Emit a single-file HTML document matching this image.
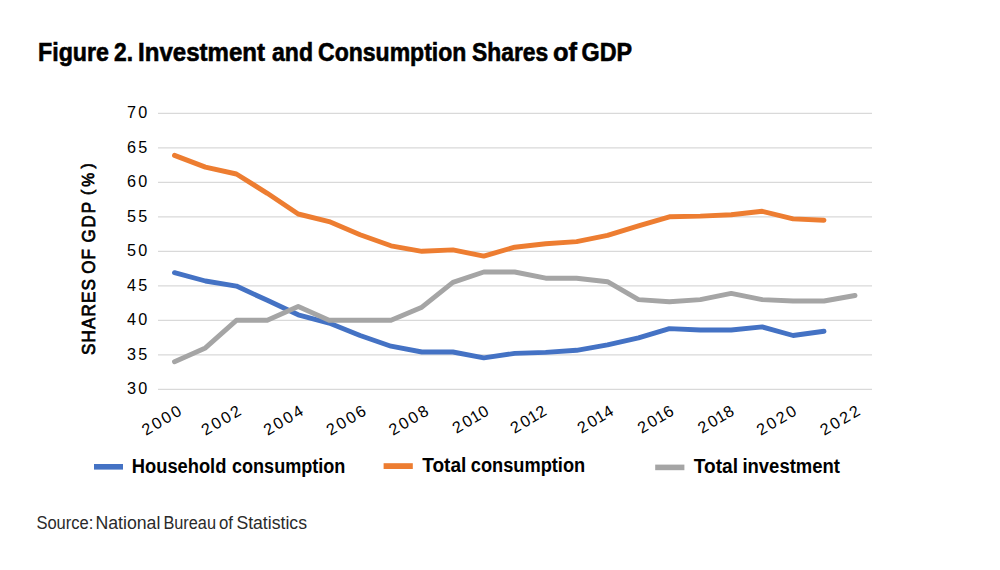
<!DOCTYPE html>
<html><head><meta charset="utf-8"><style>html,body{margin:0;padding:0;background:#fff;width:1000px;height:570px;overflow:hidden}svg{display:block}</style></head><body>
<svg width="1000" height="570" viewBox="0 0 1000 570">
<rect width="1000" height="570" fill="#fff"/>
<text x="38.0" y="61" font-family="Liberation Sans" font-weight="bold" font-size="25.6" fill="#000" stroke="#000" stroke-width="0.6" textLength="71.0" lengthAdjust="spacingAndGlyphs">Figure</text>
<text x="114.0" y="61" font-family="Liberation Sans" font-weight="bold" font-size="25.6" fill="#000" stroke="#000" stroke-width="0.6" textLength="19.0" lengthAdjust="spacingAndGlyphs">2.</text>
<text x="138.0" y="61" font-family="Liberation Sans" font-weight="bold" font-size="25.6" fill="#000" stroke="#000" stroke-width="0.6" textLength="127.0" lengthAdjust="spacingAndGlyphs">Investment</text>
<text x="272.0" y="61" font-family="Liberation Sans" font-weight="bold" font-size="25.6" fill="#000" stroke="#000" stroke-width="0.6" textLength="41.0" lengthAdjust="spacingAndGlyphs">and</text>
<text x="318.0" y="61" font-family="Liberation Sans" font-weight="bold" font-size="25.6" fill="#000" stroke="#000" stroke-width="0.6" textLength="148.4" lengthAdjust="spacingAndGlyphs">Consumption</text>
<text x="472.0" y="61" font-family="Liberation Sans" font-weight="bold" font-size="25.6" fill="#000" stroke="#000" stroke-width="0.6" textLength="76.2" lengthAdjust="spacingAndGlyphs">Shares</text>
<text x="553.0" y="61" font-family="Liberation Sans" font-weight="bold" font-size="25.6" fill="#000" stroke="#000" stroke-width="0.6" textLength="24.0" lengthAdjust="spacingAndGlyphs">of</text>
<text x="581.6" y="61" font-family="Liberation Sans" font-weight="bold" font-size="25.6" fill="#000" stroke="#000" stroke-width="0.6" textLength="50.6" lengthAdjust="spacingAndGlyphs">GDP</text>
<line x1="158" x2="872" y1="389.3" y2="389.3" stroke="#d9d9d9" stroke-width="1.3"/>
<text x="149.5" y="394.2" font-family="Liberation Sans" font-size="16.2" fill="#000" text-anchor="end" letter-spacing="2.3">30</text>
<line x1="158" x2="872" y1="354.8" y2="354.8" stroke="#d9d9d9" stroke-width="1.3"/>
<text x="149.5" y="359.7" font-family="Liberation Sans" font-size="16.2" fill="#000" text-anchor="end" letter-spacing="2.3">35</text>
<line x1="158" x2="872" y1="320.3" y2="320.3" stroke="#d9d9d9" stroke-width="1.3"/>
<text x="149.5" y="325.2" font-family="Liberation Sans" font-size="16.2" fill="#000" text-anchor="end" letter-spacing="2.3">40</text>
<line x1="158" x2="872" y1="285.8" y2="285.8" stroke="#d9d9d9" stroke-width="1.3"/>
<text x="149.5" y="290.7" font-family="Liberation Sans" font-size="16.2" fill="#000" text-anchor="end" letter-spacing="2.3">45</text>
<line x1="158" x2="872" y1="251.3" y2="251.3" stroke="#d9d9d9" stroke-width="1.3"/>
<text x="149.5" y="256.2" font-family="Liberation Sans" font-size="16.2" fill="#000" text-anchor="end" letter-spacing="2.3">50</text>
<line x1="158" x2="872" y1="216.8" y2="216.8" stroke="#d9d9d9" stroke-width="1.3"/>
<text x="149.5" y="221.7" font-family="Liberation Sans" font-size="16.2" fill="#000" text-anchor="end" letter-spacing="2.3">55</text>
<line x1="158" x2="872" y1="182.3" y2="182.3" stroke="#d9d9d9" stroke-width="1.3"/>
<text x="149.5" y="187.2" font-family="Liberation Sans" font-size="16.2" fill="#000" text-anchor="end" letter-spacing="2.3">60</text>
<line x1="158" x2="872" y1="147.8" y2="147.8" stroke="#d9d9d9" stroke-width="1.3"/>
<text x="149.5" y="152.7" font-family="Liberation Sans" font-size="16.2" fill="#000" text-anchor="end" letter-spacing="2.3">65</text>
<line x1="158" x2="872" y1="113.3" y2="113.3" stroke="#d9d9d9" stroke-width="1.3"/>
<text x="149.5" y="118.2" font-family="Liberation Sans" font-size="16.2" fill="#000" text-anchor="end" letter-spacing="2.3">70</text>
<text transform="translate(95.3,355) rotate(-90) scale(0.95,1)" x="0" y="0" font-family="Liberation Sans" font-size="18" fill="#000" stroke="#000" stroke-width="0.75" textLength="80.0" lengthAdjust="spacing">SHARES</text>
<text transform="translate(95.3,273.8) rotate(-90) scale(0.95,1)" x="0" y="0" font-family="Liberation Sans" font-size="18" fill="#000" stroke="#000" stroke-width="0.75" textLength="26.1" lengthAdjust="spacing">OF</text>
<text transform="translate(95.3,242.6) rotate(-90) scale(0.95,1)" x="0" y="0" font-family="Liberation Sans" font-size="18" fill="#000" stroke="#000" stroke-width="0.75" textLength="42.9" lengthAdjust="spacing">GDP</text>
<text transform="translate(92.5,195) rotate(-90) scale(0.95,1)" x="0" y="0" font-family="Liberation Sans" font-size="16.5" fill="#000" stroke="#000" stroke-width="0.75" textLength="7.4" lengthAdjust="spacing">(</text>
<text transform="translate(94,186.7) rotate(-90) scale(0.95,1)" x="0" y="0" font-family="Liberation Sans" font-size="16.5" fill="#000" stroke="#000" stroke-width="0.75" textLength="17.1" lengthAdjust="spacing">%</text>
<text transform="translate(92.5,168.5) rotate(-90) scale(0.95,1)" x="0" y="0" font-family="Liberation Sans" font-size="16.5" fill="#000" stroke="#000" stroke-width="0.75" textLength="7.4" lengthAdjust="spacing">)</text>
<text transform="translate(184.7,412.8) rotate(-31)" font-family="Liberation Sans" font-size="16.2" fill="#000" text-anchor="end" letter-spacing="2.3">2000</text>
<text transform="translate(244.3,412.8) rotate(-31)" font-family="Liberation Sans" font-size="16.2" fill="#000" text-anchor="end" letter-spacing="2.3">2002</text>
<text transform="translate(306.4,412.8) rotate(-31)" font-family="Liberation Sans" font-size="16.2" fill="#000" text-anchor="end" letter-spacing="2.3">2004</text>
<text transform="translate(369.3,412.8) rotate(-31)" font-family="Liberation Sans" font-size="16.2" fill="#000" text-anchor="end" letter-spacing="2.3">2006</text>
<text transform="translate(431.7,412.8) rotate(-31)" font-family="Liberation Sans" font-size="16.2" fill="#000" text-anchor="end" letter-spacing="2.3">2008</text>
<text transform="translate(491.9,412.8) rotate(-31)" font-family="Liberation Sans" font-size="16.2" fill="#000" text-anchor="end" letter-spacing="2.3" dx="0 0 -2 -2">2010</text>
<text transform="translate(549.8,412.8) rotate(-31)" font-family="Liberation Sans" font-size="16.2" fill="#000" text-anchor="end" letter-spacing="2.3" dx="0 0 -2 -2">2012</text>
<text transform="translate(616.8,412.8) rotate(-31)" font-family="Liberation Sans" font-size="16.2" fill="#000" text-anchor="end" letter-spacing="2.3" dx="0 0 -2 -2">2014</text>
<text transform="translate(677.0,412.8) rotate(-31)" font-family="Liberation Sans" font-size="16.2" fill="#000" text-anchor="end" letter-spacing="2.3" dx="0 0 -2 -2">2016</text>
<text transform="translate(737.3,412.8) rotate(-31)" font-family="Liberation Sans" font-size="16.2" fill="#000" text-anchor="end" letter-spacing="2.3" dx="0 0 -2 -2">2018</text>
<text transform="translate(799.6,412.8) rotate(-31)" font-family="Liberation Sans" font-size="16.2" fill="#000" text-anchor="end" letter-spacing="2.3">2020</text>
<text transform="translate(863.1,412.8) rotate(-31)" font-family="Liberation Sans" font-size="16.2" fill="#000" text-anchor="end" letter-spacing="2.3">2022</text>
<polyline points="174.5,272.7 205.4,281.0 236.4,286.1 267.3,300.3 298.2,314.8 329.1,323.1 360.1,335.5 391.0,346.2 421.9,352.0 452.9,352.0 483.8,357.9 514.7,353.4 545.7,352.4 576.6,350.3 607.5,344.8 638.5,337.9 669.4,328.6 700.3,330.0 731.2,330.0 762.2,326.9 793.1,335.5 824.0,331.3" fill="none" stroke="#4472c4" stroke-width="4.9" stroke-linejoin="round" stroke-linecap="round"/>
<polyline points="174.5,155.4 205.4,167.1 236.4,174.0 267.3,193.3 298.2,214.0 329.1,221.6 360.1,234.7 391.0,245.8 421.9,251.3 452.9,249.9 483.8,256.1 514.7,247.2 545.7,243.7 576.6,241.6 607.5,235.4 638.5,225.8 669.4,216.8 700.3,216.1 731.2,214.7 762.2,211.3 793.1,218.9 824.0,220.2" fill="none" stroke="#ed7d31" stroke-width="4.9" stroke-linejoin="round" stroke-linecap="round"/>
<polyline points="174.5,361.7 205.4,347.9 236.4,320.3 267.3,320.3 298.2,306.5 329.1,320.3 360.1,320.3 391.0,320.3 421.9,307.2 452.9,282.4 483.8,272.0 514.7,272.0 545.7,278.2 576.6,278.2 607.5,281.7 638.5,299.6 669.4,301.7 700.3,299.6 731.2,293.4 762.2,299.6 793.1,301.0 824.0,301.0 855.0,295.5" fill="none" stroke="#a5a5a5" stroke-width="4.9" stroke-linejoin="round" stroke-linecap="round"/>
<rect x="94" y="464" width="29" height="5.6" fill="#4472c4"/>
<rect x="383.6" y="463.2" width="29.2" height="5.8" fill="#ed7d31"/>
<rect x="655.2" y="464.6" width="29.2" height="5.6" fill="#a5a5a5"/>
<text x="131.8" y="473.2" font-family="Liberation Sans" font-weight="bold" font-size="20" fill="#000" textLength="94.6" lengthAdjust="spacingAndGlyphs">Household</text>
<text x="232.0" y="473.2" font-family="Liberation Sans" font-weight="bold" font-size="20" fill="#000" textLength="113.4" lengthAdjust="spacingAndGlyphs">consumption</text>
<text x="422.2" y="471.9" font-family="Liberation Sans" font-weight="bold" font-size="20" fill="#000" textLength="44.2" lengthAdjust="spacingAndGlyphs">Total</text>
<text x="470.8" y="471.9" font-family="Liberation Sans" font-weight="bold" font-size="20" fill="#000" textLength="114.4" lengthAdjust="spacingAndGlyphs">consumption</text>
<text x="693.8" y="473.2" font-family="Liberation Sans" font-weight="bold" font-size="20" fill="#000" textLength="44.2" lengthAdjust="spacingAndGlyphs">Total</text>
<text x="742.4" y="473.2" font-family="Liberation Sans" font-weight="bold" font-size="20" fill="#000" textLength="97.6" lengthAdjust="spacingAndGlyphs">investment</text>
<text x="36.4" y="529" font-family="Liberation Sans" font-size="17.5" fill="#2a2a2a" textLength="57.0" lengthAdjust="spacingAndGlyphs">Source:</text>
<text x="95.4" y="529" font-family="Liberation Sans" font-size="17.5" fill="#2a2a2a" textLength="65.0" lengthAdjust="spacingAndGlyphs">National</text>
<text x="163.4" y="529" font-family="Liberation Sans" font-size="17.5" fill="#2a2a2a" textLength="52.6" lengthAdjust="spacingAndGlyphs">Bureau</text>
<text x="219.0" y="529" font-family="Liberation Sans" font-size="17.5" fill="#2a2a2a" textLength="14.0" lengthAdjust="spacingAndGlyphs">of</text>
<text x="236.4" y="529" font-family="Liberation Sans" font-size="17.5" fill="#2a2a2a" textLength="70.6" lengthAdjust="spacingAndGlyphs">Statistics</text>
</svg>
</body></html>
